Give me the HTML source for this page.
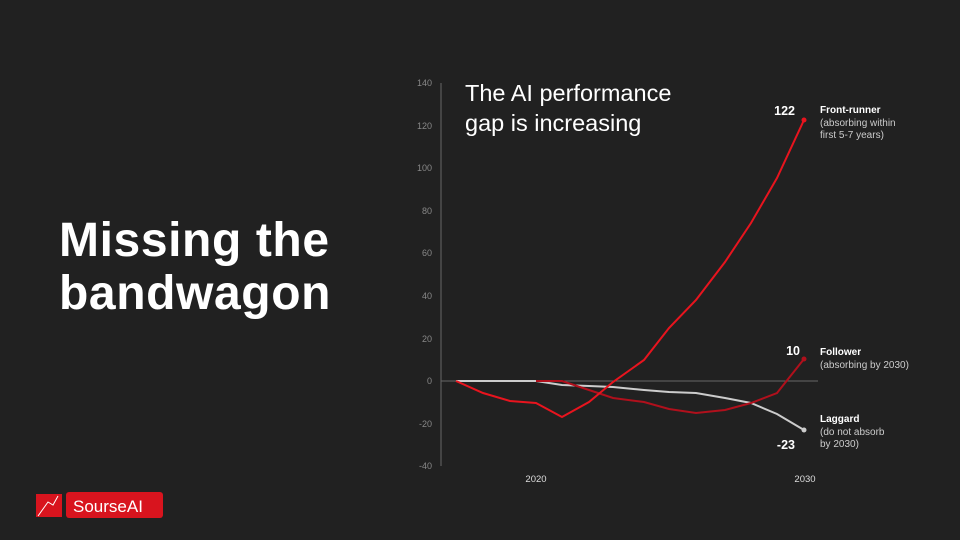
<!DOCTYPE html>
<html><head><meta charset="utf-8"><style>
body{margin:0;background:#212121;width:960px;height:540px;overflow:hidden;font-family:"Liberation Sans",sans-serif;}
.h{position:absolute;left:59px;top:214px;color:#fff;font-weight:bold;font-size:48px;line-height:53px;letter-spacing:0.6px}
</style></head><body>
<div class="h">Missing the<br>bandwagon</div>
<svg width="960" height="540" style="position:absolute;left:0;top:0" font-family="Liberation Sans, sans-serif">
<line x1="441" y1="83" x2="441" y2="466" stroke="#666" stroke-width="1"/>
<line x1="441" y1="381" x2="818" y2="381" stroke="#666" stroke-width="1"/>
<g fill="#888" font-size="9" text-anchor="end">
<text x="432" y="86">140</text><text x="432" y="129">120</text><text x="432" y="171">100</text>
<text x="432" y="214">80</text><text x="432" y="256">60</text><text x="432" y="299">40</text>
<text x="432" y="342">20</text><text x="432" y="384">0</text><text x="432" y="427">-20</text><text x="432" y="469">-40</text>
</g>
<g fill="#ddd" font-size="9.5" text-anchor="middle"><text x="536" y="482">2020</text><text x="805" y="482">2030</text></g>
<text x="465" y="101" fill="#fff" font-size="23.5">The AI performance</text>
<text x="465" y="131" fill="#fff" font-size="23.5">gap is increasing</text>
<polyline fill="none" stroke="#ccc" stroke-width="2" points="456,381 536,381 562,385 589,386 613,387 644,390 669,392 696,393 725,398 751,403 777,414 804,430"/>
<polyline fill="none" stroke="#b0101c" stroke-width="2" points="536,381 562,381 589,390 613,398 644,402 669,409 696,413 725,410 751,403 777,393 804,359"/>
<polyline fill="none" stroke="#e8141e" stroke-width="2" points="456,381 483,393 510,401 536,403 562,417 589,402 613,382 644,360 669,328 696,300 725,262 751,223 777,178 804,120"/>
<circle cx="804" cy="120" r="2.5" fill="#e8141e"/><circle cx="804" cy="359" r="2.5" fill="#b0101c"/><circle cx="804" cy="430" r="2.5" fill="#ccc"/>
<g fill="#fff" font-weight="bold" font-size="12.5" text-anchor="end"><text x="795" y="115">122</text><text x="800" y="355">10</text><text x="795" y="449">-23</text></g>
<g font-size="10" fill="#ccc">
<text x="820" y="113" fill="#fff" font-weight="bold">Front-runner</text><text x="820" y="126">(absorbing within</text><text x="820" y="138">first 5-7 years)</text>
<text x="820" y="355" fill="#fff" font-weight="bold">Follower</text><text x="820" y="368">(absorbing by 2030)</text>
<text x="820" y="422" fill="#fff" font-weight="bold">Laggard</text><text x="820" y="435">(do not absorb</text><text x="820" y="447">by 2030)</text>
</g>
<rect x="36" y="494" width="26" height="23" fill="#d8141e"/>
<polyline points="38,516 48,502 53,505 58,496" fill="none" stroke="#fff" stroke-width="1"/>
<rect x="66" y="492" width="97" height="26" rx="3" fill="#d8141e"/>
<text x="73" y="512" fill="#fff" font-size="17">SourseAI</text>
</svg>
</body></html>
